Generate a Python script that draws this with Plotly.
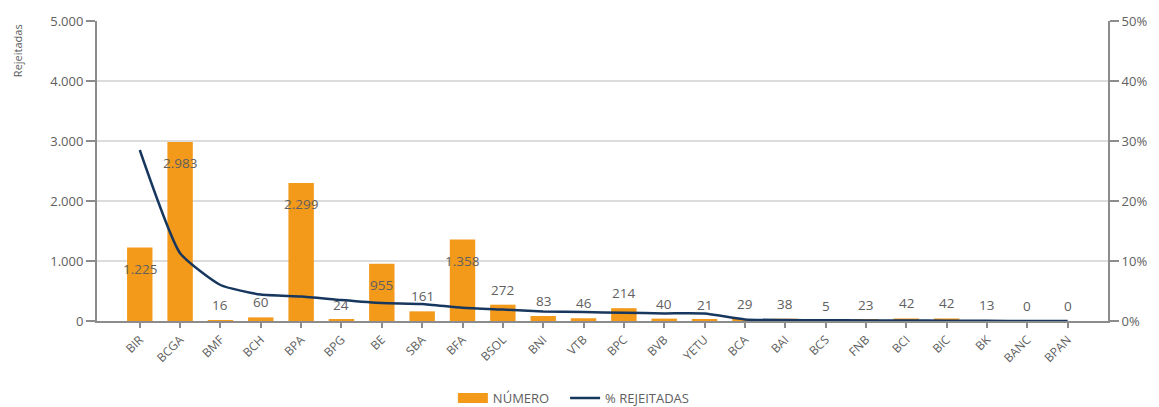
import plotly.graph_objects as go

categories = ["BIR", "BCGA", "BMF", "BCH", "BPA", "BPG", "BE", "SBA", "BFA", "BSOL",
              "BNI", "VTB", "BPC", "BVB", "YETU", "BCA", "BAI", "BCS", "FNB", "BCI",
              "BIC", "BK", "BANC", "BPAN"]
numero = [1225, 2983, 16, 60, 2299, 24, 955, 161, 1358, 272,
          83, 46, 214, 40, 21, 29, 38, 5, 23, 42,
          42, 13, 0, 0]
pct_rejeitadas = [28.5, 11.3, 6.0, 4.4, 4.1, 3.5, 3.0, 2.85, 2.2, 1.9,
                  1.6, 1.5, 1.37, 1.27, 1.25, 0.27, 0.15, 0.13, 0.1, 0.08,
                  0.06, 0.03, 0.0, 0.0]
left_ticks = [0, 1000, 2000, 3000, 4000, 5000]
right_ticks = [0, 10, 20, 30, 40, 50]
right_labels = ["0%", "10%", "20%", "30%", "40%", "50%"]

BAR = "#F39A1B"
LINE = "#17375E"
TXT = "#606060"
AXIS = "#8C8C8C"


def fmt(v):
    return f"{v:,}".replace(",", ".")


fig = go.Figure()
fig.add_trace(go.Bar(
    x=categories, y=numero, name="NÚMERO",
    marker=dict(color=BAR, line=dict(width=0)),
    width=0.63, showlegend=False, legendgroup="n",
))
# legend entry for the bars (wide rectangle swatch)
fig.add_trace(go.Scatter(
    x=[None], y=[None], name="NÚMERO", mode="lines",
    line=dict(color=BAR, width=14), legendgroup="n", showlegend=True,
    legend="legend",
))
fig.add_trace(go.Scatter(
    x=categories, y=pct_rejeitadas, name="% REJEITADAS", yaxis="y2",
    mode="lines", line=dict(color=LINE, width=2.5, shape="spline", smoothing=0.5),
    legend="legend2",
))

# data labels: inside (below top) for tall bars, above for short ones
labels = [
    dict(x=c, y=v, xref="x", yref="y", text=fmt(v), showarrow=False,
         yanchor="middle", xanchor="center",
         yshift=(-21 if v >= 900 else 15),
         font=dict(color=TXT, size=13.5))
    for c, v in zip(categories, numero)
]

labels.append(dict(
    text="Rejeitadas", textangle=-90, xref="paper", yref="paper",
    x=-0.079, y=0.995, xanchor="center", yanchor="top", showarrow=False,
    font=dict(size=11, color=TXT),
))

legend_common = dict(
    orientation="h", yref="container", y=0.022, yanchor="middle", xanchor="left",
    font=dict(size=13, color=TXT), bgcolor="rgba(0,0,0,0)", itemwidth=30,
)

fig.update_layout(
    width=1159, height=407,
    margin=dict(l=97, r=48, t=18, b=86),
    paper_bgcolor="white", plot_bgcolor="white",
    font=dict(family="Open Sans, Lato, sans-serif", size=11, color=TXT),
    xaxis=dict(
        type="category", range=[-1.06, 24.0],
        tickangle=-45, showgrid=False,
        showline=True, linecolor=AXIS, linewidth=2,
        ticks="outside", ticklen=5, tickcolor=AXIS, tickwidth=1.5,
        tickfont=dict(size=12, color=TXT),
    ),
    yaxis=dict(
        range=[0, 5000], tickmode="array", tickvals=left_ticks,
        ticktext=[fmt(t) for t in left_ticks],
        showgrid=True, gridcolor="#DCDCDC", gridwidth=1.5,
        showline=True, linecolor=AXIS, linewidth=2,
        ticks="outside", ticklen=9, tickcolor=AXIS, tickwidth=1.5,
        tickfont=dict(size=13, color=TXT), zeroline=False,
    ),
    yaxis2=dict(
        range=[0, 50], tickmode="array", tickvals=right_ticks, ticktext=right_labels,
        overlaying="y", side="right", showgrid=False,
        showline=True, linecolor=AXIS, linewidth=2,
        ticks="outside", ticklen=9, tickcolor=AXIS, tickwidth=1.5,
        tickfont=dict(size=13, color=TXT), zeroline=False,
    ),
    legend=dict(x=0.352, **legend_common),
    legend2=dict(x=0.463, **legend_common),
    annotations=labels,
)

fig.write_html("out.html", config={"displayModeBar": False},
               post_script="document.body.style.margin='0px';")
